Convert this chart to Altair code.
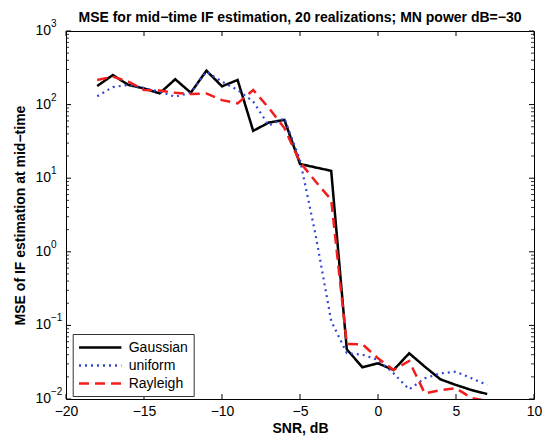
import altair as alt
import pandas as pd

# ---- data ----
snr = list(range(-18, 8))
gaussian = [179, 252, 185, 166, 142, 221, 145, 289, 177, 216, 44, 57, 62, 15.6, 14.0, 12.6,
            0.0473, 0.027, 0.0305, 0.0248, 0.0418, 0.0275, 0.0185, 0.0155, 0.0132, 0.0117]
uniform = [130, 173, 185, 168, 150, 128, 145, 280, 205, 158, 110, 52, 65, 17.7, 1.7, 0.115,
           0.042, 0.040, 0.034, 0.0223, 0.0135, 0.0191, 0.0223, 0.0235, 0.0191, 0.0155]
rayleigh = [216, 240, 205, 158, 155, 145, 139, 142, 115, 104, 158, 90, 48, 16.5, 9.0, 5.1,
            0.0559, 0.0555, 0.0357, 0.0248, 0.0328, 0.0119, 0.0132, 0.014, 0.0103, 0.0095]

names = ["Gaussian", "uniform", "Rayleigh"]
colors = ["#000000", "#3346d6", "#f21d1d"]
dashes = [[1, 0], [2, 4], [10, 6]]

x_ticks = [-20, -15, -10, -5, 0, 5, 10]
y_major = [1000, 100, 10, 1, 0.1, 0.01]
y_exp = ["3", "2", "1", "0", "\u22121", "\u22122"]
y_minor = [m * d for d in [0.01, 0.1, 1, 10, 100] for m in range(2, 10)]

W, H = 468, 368

rows = []
for name, vals in zip(names, [gaussian, uniform, rayleigh]):
    for s, v in zip(snr, vals):
        rows.append({"snr": s, "mse": v, "series": name})
df = pd.DataFrame(rows)

FONT = "Liberation Sans"

xscale = alt.Scale(domain=[-20, 10], nice=False, zero=False)
yscale = alt.Scale(type="log", domain=[0.01, 1000], nice=False)

color = alt.Color("series:N", scale=alt.Scale(domain=names, range=colors), title=None)
dash = alt.StrokeDash("series:N", scale=alt.Scale(domain=names, range=dashes), title=None)

xaxis = alt.Axis(values=x_ticks, ticks=False, domain=False, grid=False, labelFlush=False,
                 labelFontSize=14, labelFont=FONT, labelColor="black", labelPadding=5,
                 title="SNR, dB", titleFont=FONT, titleFontSize=14, titleFontWeight="bold",
                 titleColor="black", titleX=W / 2, titleY=29, titleBaseline="middle",
                 titleAlign="center")
yaxis = alt.Axis(labels=False, ticks=False, domain=False, grid=False,
                 title="MSE of IF estimation at mid\u2212time", titleFont=FONT,
                 titleFontSize=14, titleFontWeight="bold", titleColor="black",
                 titleX=-46, titleY=H / 2, titleAngle=270, titleBaseline="middle",
                 titleAlign="center")


def X(field):
    return alt.X(field, scale=xscale, axis=xaxis)


def Y(field):
    return alt.Y(field, scale=yscale, axis=yaxis)


layers = []
widths = {"Gaussian": 2.5, "uniform": 2.2, "Rayleigh": 2.5}
for name in names:
    ln = alt.Chart(df).transform_filter(alt.datum.series == name).mark_line(
        clip=True, strokeWidth=widths[name]
    ).encode(
        x=X("snr:Q"),
        y=Y("mse:Q"),
        color=color,
        strokeDash=dash,
    )
    layers.append(ln)

xt = pd.DataFrame({"t": x_ticks})
ymaj = pd.DataFrame({"v": y_major, "e": y_exp})
ymin = pd.DataFrame({"v": y_minor})

tick_color = "black"
xb = alt.Chart(xt).mark_rule(color=tick_color, strokeWidth=1).encode(
    x=X("t:Q"), y=alt.value(H), y2=alt.value(H - 5))
xtp = alt.Chart(xt).mark_rule(color=tick_color, strokeWidth=1).encode(
    x=X("t:Q"), y=alt.value(0), y2=alt.value(5))
yl = alt.Chart(ymaj).mark_rule(color=tick_color, strokeWidth=1).encode(
    y=Y("v:Q"), x=alt.value(0), x2=alt.value(5))
yr = alt.Chart(ymaj).mark_rule(color=tick_color, strokeWidth=1).encode(
    y=Y("v:Q"), x=alt.value(W), x2=alt.value(W - 5))
yml = alt.Chart(ymin).mark_rule(color=tick_color, strokeWidth=0.8).encode(
    y=Y("v:Q"), x=alt.value(0), x2=alt.value(3))
ymr = alt.Chart(ymin).mark_rule(color=tick_color, strokeWidth=0.8).encode(
    y=Y("v:Q"), x=alt.value(W), x2=alt.value(W - 3))

base_lbl = alt.Chart(ymaj).mark_text(align="right", baseline="middle", fontSize=14,
                                     font=FONT, color="black").encode(
    y=Y("v:Q"), x=alt.value(-15), text=alt.value("10"))
exp_lbl = alt.Chart(ymaj).mark_text(align="left", baseline="middle", fontSize=10,
                                    font=FONT, color="black", dy=-7).encode(
    y=Y("v:Q"), x=alt.value(-15), text="e:N")

chart = alt.layer(
    *layers, xb, xtp, yl, yr, yml, ymr, base_lbl, exp_lbl
).properties(
    width=W, height=H,
    title=alt.TitleParams(
        "MSE for mid\u2212time IF estimation, 20 realizations; MN power dB=\u221230",
        font=FONT, fontSize=14, fontWeight="bold", color="black", anchor="middle",
        offset=-6),
    autosize=alt.AutoSizeParams(type="none"),
    padding={"left": 66, "top": 31, "right": 13, "bottom": 41},
    background="white",
).configure_view(
    stroke="black", strokeWidth=1
).configure_legend(
    orient="none", legendX=6.7, legendY=303, strokeColor="#333333", fillColor="white",
    padding=5, rowPadding=2, symbolType="M-3,0H3", symbolSize=200, symbolOffset=14,
    labelOffset=20, symbolStrokeWidth=2.5, labelFont=FONT, labelFontSize=14,
    labelColor="black", cornerRadius=0, titlePadding=0,
)

chart.save("out.html", embed_options={"renderer": "svg", "actions": False})
